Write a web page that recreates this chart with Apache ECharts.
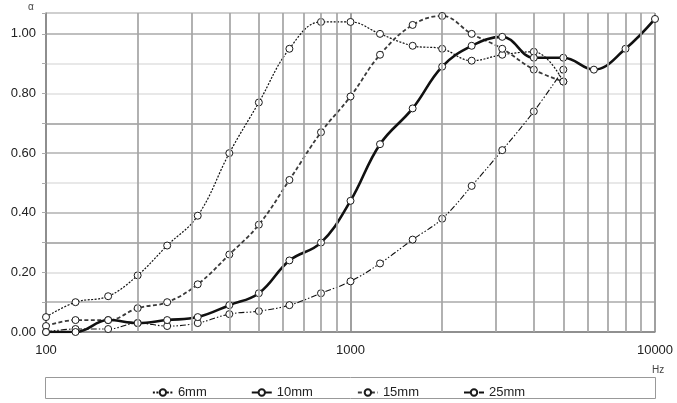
<!DOCTYPE html>
<html><head><meta charset="utf-8">
<script src="https://cdn.jsdelivr.net/npm/echarts@6/dist/echarts.min.js"></script>
<style>html,body{margin:0;padding:0;background:#fff}#c{width:677px;height:403px}</style>
</head><body><div id="c"></div>
<script>
// Frequencies (Hz), 1/3 octave bands
const freqs = [100,125,160,200,250,315,400,500,630,800,1000,1250,1600,2000,2500,3150,4000,5000,6300,8000,10000];
// Absorption coefficient α per thickness
const mm6  = [0.05,0.10,0.12,0.19,0.29,0.39,0.60,0.77,0.95,1.04,1.04,1.00,0.96,0.95,0.91,0.93,0.94,0.84];
const mm10 = [0.00,0.00,0.04,0.03,0.04,0.05,0.09,0.13,0.24,0.30,0.44,0.63,0.75,0.89,0.96,0.99,0.92,0.92,0.88,0.95,1.05];
const mm15 = [0.02,0.04,0.04,0.08,0.10,0.16,0.26,0.36,0.51,0.67,0.79,0.93,1.03,1.06,1.00,0.95,0.88,0.84];
const mm25 = [0.00,0.01,0.01,0.03,0.02,0.03,0.06,0.07,0.09,0.13,0.17,0.23,0.31,0.38,0.49,0.61,0.74,0.88];
const seriesNames = ['6mm','10mm','15mm','25mm'];
const xTickLabels = ['100','1000','10000'];
const yTickLabels = ['0.00','0.20','0.40','0.60','0.80','1.00'];
const minorFreqs = [200,300,400,500,600,700,800,900,2000,3000,4000,5000,6000,7000,8000,9000];

function pairs(vals){ return vals.map((v,i)=>[freqs[i], v]); }

const symStyle = {color:'#fff', borderColor:'#1a1a1a', borderWidth:1};

const chart = echarts.init(document.getElementById('c'), null, {renderer:'canvas'});
chart.setOption({
  animation:false,
  backgroundColor:'#fff',
  textStyle:{fontFamily:'Liberation Sans, Arial, sans-serif'},
  grid:{left:46, right:22, top:13, bottom:71, show:true, borderColor:'#c8c8c8', borderWidth:1},
  legend:{
    data:seriesNames, left:'center', top:381, itemWidth:20, itemHeight:8, itemGap:44,
    textStyle:{fontSize:13, color:'#222', fontFamily:'Liberation Sans, Arial, sans-serif'}
  },
  graphic:[
    {type:'rect', shape:{x:45.5, y:377.5, width:610, height:21}, style:{fill:'none', stroke:'#999', lineWidth:1}, z:-1},
    {type:'text', left:652, top:365, style:{text:'Hz', fontSize:10, fill:'#444', fontFamily:'Liberation Sans, Arial, sans-serif'}},
    {type:'text', left:28, top:2, style:{text:'α', fontSize:10, fill:'#444', fontFamily:'Liberation Sans, Arial, sans-serif'}}
  ],
  xAxis:{
    type:'log', logBase:10, min:100, max:10000,
    axisLine:{show:true, lineStyle:{color:'#888', width:1.5}},
    axisTick:{show:false},
    axisLabel:{margin:12, fontSize:13, color:'#222', formatter:v=>{const s=String(Math.round(v)); return xTickLabels.indexOf(s)>=0?s:'';}},
    splitLine:{show:true, lineStyle:{color:'#a0a0a0', width:2}}
  },
  yAxis:{
    type:'value', min:0, max:1.07, interval:0.1,
    axisLine:{show:true, lineStyle:{color:'#888', width:1.5}},
    axisTick:{show:true, length:4, lineStyle:{color:'#aaa'}},
    axisLabel:{margin:10, fontSize:13, color:'#222', formatter:v=>{const s=v.toFixed(2); return yTickLabels.indexOf(s)>=0?s:'';}},
    splitLine:{show:true, lineStyle:{width:1.5, color:['#999','#aaa','#ddd','#9a9a9a','#b0b0b0','#e0e0e0','#b0b0b0','#9a9a9a','#e0e0e0','#e0e0e0','#aaa','#c8c8c8']}}
  },
  series:[
    {
      name:'_grid', type:'line', data:[], silent:true, z:1,
      markLine:{silent:true, symbol:['none','none'], label:{show:false},
        lineStyle:{color:'#a4a4a4', width:1.7, type:'solid'},
        data:minorFreqs.map(f=>({xAxis:f}))}
    },
    {name:'6mm', type:'line', data:pairs(mm6), smooth:0.4, symbol:'circle', symbolSize:7, z:3,
      lineStyle:{color:'#111', width:1.2, type:[2,1.5]}, itemStyle:symStyle},
    {name:'10mm', type:'line', data:pairs(mm10), smooth:0.4, symbol:'circle', symbolSize:7, z:4,
      lineStyle:{color:'#111', width:2.6, type:'solid'}, itemStyle:symStyle},
    {name:'15mm', type:'line', data:pairs(mm15), smooth:0.4, symbol:'circle', symbolSize:7, z:3,
      lineStyle:{color:'#3a3a3a', width:1.8, type:[4,2.5]}, itemStyle:symStyle},
    {name:'25mm', type:'line', data:pairs(mm25), smooth:0.4, symbol:'circle', symbolSize:7, z:3,
      lineStyle:{color:'#111', width:1.1, type:[6,2,1.5,2,1.5,2]}, itemStyle:symStyle}
  ]
});
</script>
</body></html>
